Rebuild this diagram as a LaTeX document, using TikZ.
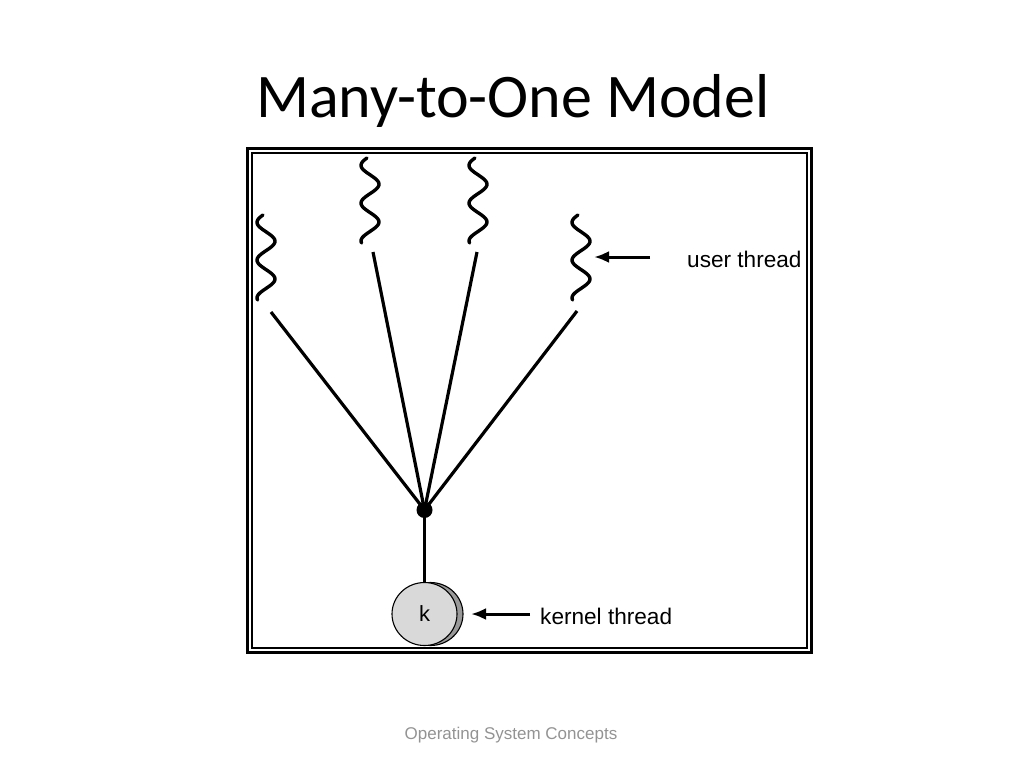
\documentclass[tikz,border=0pt]{standalone}
\usepackage{fontspec}
\setmainfont{Liberation Sans}
\newfontfamily\titlefont{Carlito}
\usetikzlibrary{positioning,shapes,shadows,arrows,arrows.meta}

\begin{document}
\begin{tikzpicture}[x=1pt, y=-1pt]
        \tikzset{
            uthread/.style={line width=3.4pt, line cap=round},
            link/.style={line width=3.2pt},
            ptr/.style={-{Latex[length=15pt, width=12pt]}, line width=3pt},
            note/.style={anchor=base west, inner sep=0pt, font=\fontsize{22.6}{27}\selectfont},
            kthread/.style={draw, ellipse, line width=1.1pt, fill=gray!30,
                minimum width=65pt, minimum height=63pt, inner sep=0pt,
                font=\fontsize{22}{26}\selectfont,
                copy shadow={shadow xshift=6pt, shadow yshift=0pt, fill=gray!80, draw=black}},
        }
        \useasboundingbox (0,0) rectangle (1024,768);

        \node[anchor=base, font=\titlefont\fontsize{62}{70}\selectfont] (title) at (513,117) {Many-to-One Model};

        % frame
        \draw[line width=3.6pt] (247.5,148.5) rectangle (811.5,652.5);
        \draw[line width=1.6pt] (252,153) rectangle (807,648);

        \node[circle, fill, inner sep=0pt, minimum size=16pt] (hub) at (424.5,510) {};
        \node[kthread] (k) at (424.5,614) {\raisebox{-3pt}{k}};

        % user threads
        \foreach \cx/\top/\bx/\by [count=\i] in {266/215/271/312, 370/158/373/252, 478/158/477/252, 581/215/577/311} {
            \draw[uthread] plot[variable=\t, domain=-70:740, samples=60, smooth]
                ({\cx - 9*cos(\t)}, {\top + (\t+70)/810*85});
            \coordinate (u\i) at (\bx,\by);
            \draw[link] (u\i) -- (hub.center);
        }
        \draw[link] (hub.center) -- (k);

        \node[note] (utext) at (687,267) {user thread};
        \coordinate (utail) at (650,257);
        \coordinate (uhead) at (594,257);
        \draw[ptr] (utail) -- (uhead);

        \node[note] (ktext) at (540,624) {kernel thread};
        \coordinate (ktail) at (530,614);
        \coordinate (khead) at (471,614);
        \draw[ptr] (ktail) -- (khead);

        \node[anchor=base, text=gray!85, font=\fontsize{17}{20}\selectfont] (footer) at (511,739) {Operating System Concepts};
\end{tikzpicture}
\end{document}
